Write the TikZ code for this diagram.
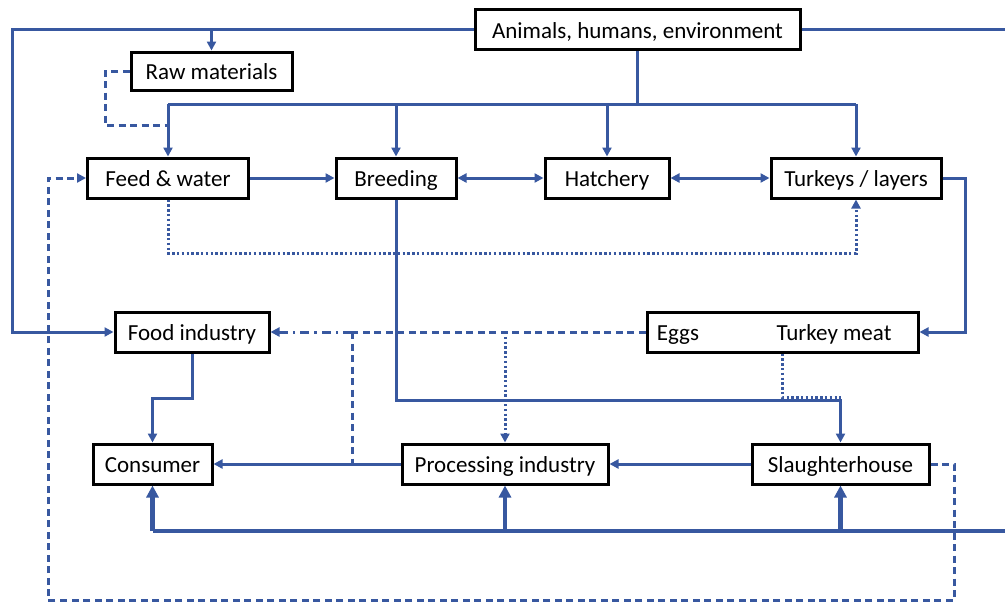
\documentclass[tikz,border=0pt]{standalone}
\usepackage{fontspec}
\setmainfont{Carlito}
\usetikzlibrary{arrows.meta}
\definecolor{ln}{RGB}{56,88,160}
\begin{document}
\begin{tikzpicture}[x=1pt,y=-1pt,
  box/.style={draw=black,line width=3pt,fill=white,minimum height=40pt,inner sep=0pt,text height=17pt,text depth=0pt,font=\fontsize{23}{27}\selectfont},
  lbl/.style={inner sep=0pt,text height=17pt,text depth=0pt,font=\fontsize{23}{27}\selectfont},
  con/.style={draw=ln,line width=3pt},
  arr/.style={con,-{Triangle[length=9pt,width=9pt]}},
  darr/.style={con,{Triangle[length=9pt,width=9pt]}-{Triangle[length=9pt,width=9pt]}},
  thick con/.style={draw=ln,line width=4.2pt},
  tarr/.style={thick con,-{Triangle[length=12pt,width=12pt]}},
  dsh/.style={dash pattern=on 7pt off 4.5pt},
  dts/.style={dash pattern=on 2.4pt off 2.4pt},
  ddt/.style={dash pattern=on 9pt off 5pt on 2.5pt off 5pt}
]
\useasboundingbox (0,0) rectangle (1005,603);
% nodes
\node[box,minimum width=325pt] (anim) at (637.5,29.5) {Animals, humans, environment};
\node[box,minimum width=161pt,minimum height=38pt] (raw) at (211.5,71) {Raw materials};
\node[box,minimum width=161pt] (feed) at (168,178) {Feed \& water};
\node[box,minimum width=120pt] (breed) at (396,178) {Breeding};
\node[box,minimum width=124pt] (hatch) at (607,178) {Hatchery};
\node[box,minimum width=170pt] (turk) at (856,178) {Turkeys / layers};
\node[box,minimum width=154pt] (food) at (192,332) {Food industry};
\node[box,minimum width=271pt] (prod) at (782.5,332) {};
\node[lbl] (eggs) at (678,332) {Eggs};
\node[lbl] (meat) at (834,332) {Turkey meat};
\node[box,minimum width=119pt] (cons) at (152.5,464) {Consumer};
\node[box,minimum width=206pt] (proc) at (505,464) {Processing industry};
\node[box,minimum width=177pt] (slau) at (840.5,464) {Slaughterhouse};
% coordinates
\coordinate (tl) at (12,29.5);
\coordinate (rx) at (1005,29.5);
\coordinate (bus) at (0,104);
\coordinate (rawa) at (105,71);
\coordinate (rawb) at (105,125);
\coordinate (dotb) at (0,253);
\coordinate (turkr) at (965,178);
\coordinate (breedb) at (0,400);
\coordinate (foodb) at (0,398);
\coordinate (split) at (352,332);
\coordinate (bottom) at (0,531);
\coordinate (bright) at (1005,531);
\coordinate (dr) at (954,464);
\coordinate (dbot) at (954,600);
\coordinate (dl) at (48,600);
\coordinate (dtop) at (48,178);
\coordinate (meatb) at (782,397);
% top connectors
\draw[arr] (anim.west) -- (tl) |- (food.west);
\draw[arr] (raw.north |- anim.west) -- (raw.north);
\draw[con] (anim.east) -- (rx);
\draw[con] (anim.south) -- (anim.south |- bus);
\draw[con] (feed.north |- bus) -- (turk.north |- bus);
\draw[arr] (feed.north |- bus) -- (feed.north);
\draw[arr] (breed.north |- bus) -- (breed.north);
\draw[arr] (hatch.north |- bus) -- (hatch.north);
\draw[arr] (turk.north |- bus) -- (turk.north);
\draw[con,dsh] (raw.west) -- (rawa) -- (rawb) -- (feed.north |- rawb);
% middle row
\draw[arr] (feed.east) -- (breed.west);
\draw[darr] (breed.east) -- (hatch.west);
\draw[darr] (hatch.east) -- (turk.west);
\draw[arr] (turk.east) -- (turkr) |- (prod.east);
\draw[arr,dts] (feed.south) -- (feed.south |- dotb) -| (turk.south);
\draw[arr] (breed.south) -- (breed.south |- breedb) -| (slau.north);
% eggs / meat lines
\draw[con,dsh] (prod.west) -- (split);
\draw[arr,ddt] (split) -- (food.east);
\draw[con,dsh] (split) -- (split |- cons.east);
\draw[arr,dts] (proc.north |- prod.west) -- (proc.north);
\draw[con,dts] (meatb |- prod.south) -- (meatb) -- (slau.north |- meatb);
% bottom row
\draw[arr] (food.south) -- (food.south |- foodb) -| (cons.north);
\draw[arr] (slau.west) -- (proc.east);
\draw[arr] (proc.west) -- (cons.east);
\draw[thick con] (bright) -- (cons.south |- bottom);
\draw[tarr] (cons.south |- bottom) -- (cons.south);
\draw[tarr] (proc.south |- bottom) -- (proc.south);
\draw[tarr] (slau.south |- bottom) -- (slau.south);
\draw[arr,dsh] (slau.east) -- (dr) -- (dbot) -- (dl) -- (dtop) -- (feed.west);
\end{tikzpicture}
\end{document}
